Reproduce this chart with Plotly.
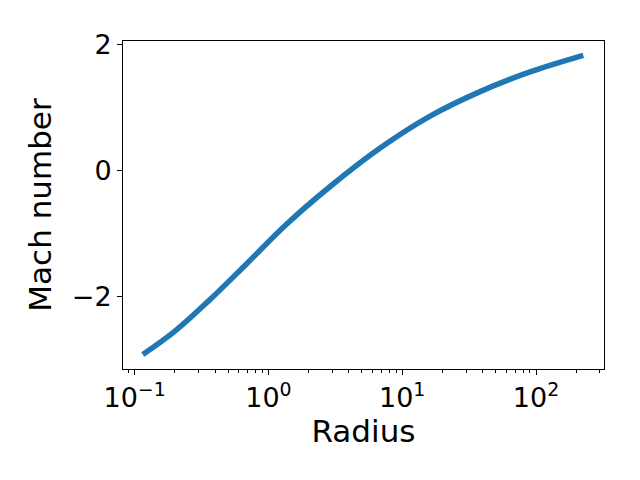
import plotly.graph_objects as go

# values (radius on log axis, Mach number)
radius = [0.1151, 0.2014, 0.3675, 0.671, 1.335, 2.894, 6.839, 16.16, 38.17, 90.2, 225.5]
mach = [-2.915, -2.540, -2.041, -1.500, -0.870, -0.253, 0.356, 0.862, 1.250, 1.562, 1.824]

x_ticks = [0.1, 1, 10, 100]
x_ticktext = ["10<sup>\u22121</sup>", "10<sup>0</sup>", "10<sup>1</sup>", "10<sup>2</sup>"]
y_ticks = [-2, 0, 2]
y_ticktext = ["\u22122", "0", "2"]

minor_vals = [m * 10 ** e for e in range(-2, 3) for m in range(2, 10)]

fig = go.Figure()
fig.add_trace(go.Scatter(x=radius, y=mach, mode="lines",
                         line=dict(color="#1f77b4", width=5.5, shape="spline", smoothing=1.0)))

tick_font = dict(family="DejaVu Sans", size=27, color="black")
title_font = dict(family="DejaVu Sans", size=31, color="black")
# page body adds 8px, so margins are shifted to keep the axes box in place
fig.update_layout(
    width=640, height=480,
    margin=dict(l=115, r=44, t=33, b=119),
    paper_bgcolor="white", plot_bgcolor="white",
    showlegend=False,
    font=tick_font,
)
fig.update_xaxes(
    type="log", range=[-1.0866, 2.508], automargin=False,
    tickvals=x_ticks, ticktext=x_ticktext, tickfont=tick_font,
    ticks="outside", ticklen=5, tickwidth=1, tickcolor="black",
    minor=dict(tickvals=minor_vals, ticks="outside", ticklen=3, tickcolor="black", showgrid=False),
    showline=True, linecolor="black", linewidth=1, mirror=True,
    showgrid=False, zeroline=False,
    title=dict(text="Radius", font=title_font, standoff=4),
)
fig.update_yaxes(
    range=[-3.144, 2.052], automargin=False,
    tickvals=y_ticks, ticktext=y_ticktext, tickfont=tick_font,
    ticks="outside", ticklen=5, tickwidth=1, tickcolor="black",
    showline=True, linecolor="black", linewidth=1, mirror=True,
    showgrid=False, zeroline=False,
    title=dict(text="Mach number", font=title_font, standoff=10),
)

fig.write_html("out.html")
